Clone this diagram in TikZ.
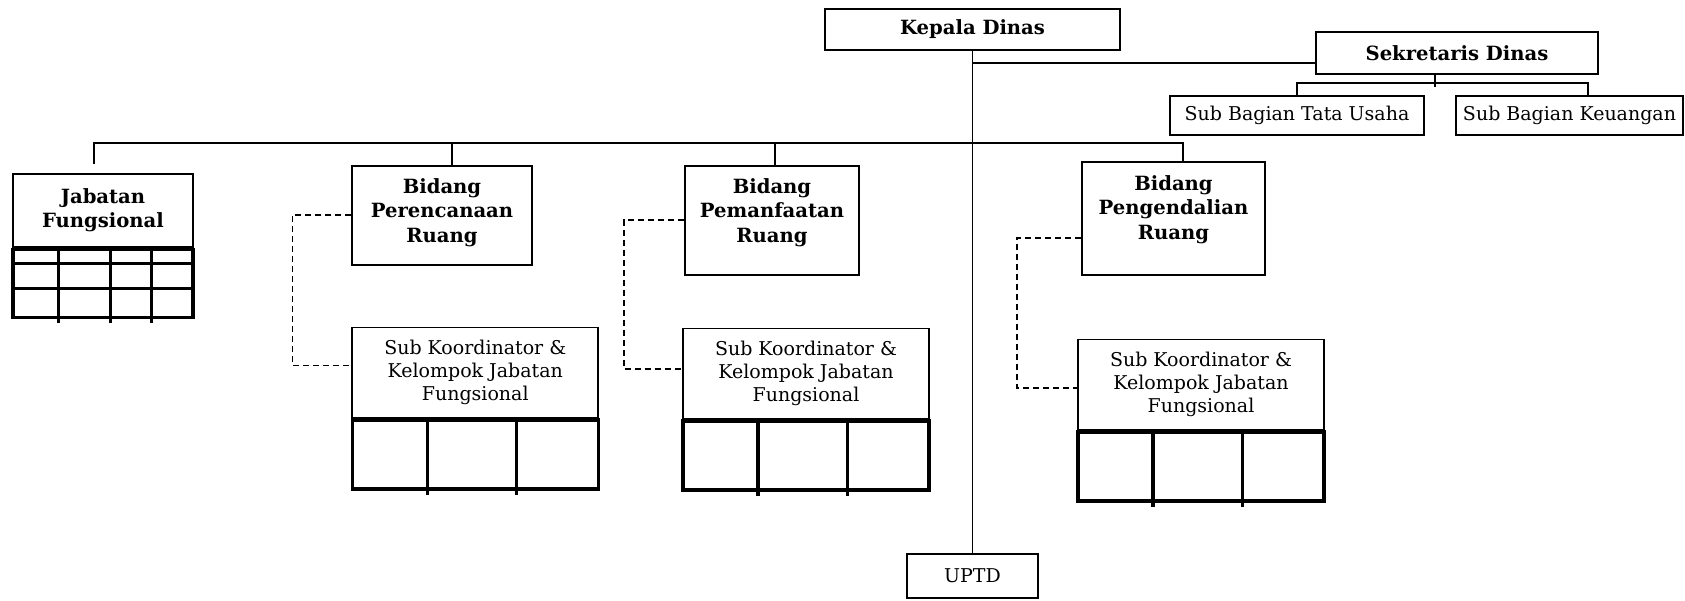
\documentclass[tikz,border=0pt]{standalone}
\usepackage{fontspec}
\setmainfont{DejaVu Serif}
\usetikzlibrary{positioning}
\colorlet{line-color}{black}
\tikzset{
    box/.style = {draw=line-color, line width=0.8pt, inner sep=0pt, align=center,
                  font=\fontsize{9.5}{11.5}\selectfont},
    headbox/.style = {box, font=\fontsize{9.8}{12.2}\selectfont\bfseries},
    bidang/.style = {draw=line-color, line width=0.8pt, anchor=north, inner sep=0pt},
    bidtext/.style = {inner sep=0pt, align=center, font=\fontsize{9.8}{12.2}\selectfont\bfseries},
    subkor/.style = {box, minimum width=123pt, minimum height=45pt},
    gridbox/.style = {draw=line-color, line width=1.6pt, inner sep=0pt, anchor=north},
    gridline/.style = {line-color, line width=1.6pt},
    link/.style = {line-color, line width=0.9pt},
    dashlink/.style = {line-color, line width=0.9pt, dash pattern=on 3pt off 2pt}
}

\begin{document}
\begin{tikzpicture}[x=0.5pt, y=-0.5pt]
\useasboundingbox (0,0) rectangle (1685,600);

% pimpinan
\node[headbox, minimum width=147.5pt, minimum height=20.5pt] (kadis) at (972.5,29.5) {Kepala Dinas};
\node[headbox, minimum width=141pt, minimum height=21pt] (sekdis) at (1457,53) {Sekretaris Dinas};
\node[box, minimum width=127pt, minimum height=19.5pt] (tu) at (1297,115.5) {Sub Bagian Tata Usaha};
\node[box, minimum width=113.5pt, minimum height=19.5pt] (keu) at (1569.5,115.5) {Sub Bagian Keuangan};
\node[box, minimum width=65.5pt, minimum height=22pt] (uptd) at (972.5,576) {UPTD};

\coordinate (sbus) at (1435,83);
\coordinate (mbus) at (0,143);

\draw[link] (kadis.south) -- (uptd.north);
\draw[link] ([yshift=-5pt]sekdis.west) -- ([yshift=-5pt]sekdis.west -| kadis.south);
\draw[link] ([xshift=-11pt]sekdis.south) -- ([yshift=-2pt]sbus);
\draw[link] (tu.north) -- (tu.north |- sbus) -- ([xshift=9.25pt]keu.north |- sbus) -- ([xshift=9.25pt]keu.north);

% jabatan fungsional
\node[headbox, minimum width=90pt, minimum height=36.5pt] (jf) at (103,210.5) {Jabatan\\Fungsional};
\node[gridbox, minimum width=90pt, minimum height=34pt] (jfg) at (jf.south) {};
\foreach \dy in {8pt,20.5pt}
    \draw[gridline] ([yshift=-\dy]jfg.north west) -- ([yshift=-\dy]jfg.north east);
\foreach \dx in {23.5pt,49.5pt,70pt}
    \draw[gridline] ([xshift=\dx]jfg.north west) -- ([xshift=\dx,yshift=-2pt]jfg.south west);

% bidang
\node[bidang, minimum width=89.75pt, minimum height=49.5pt] (bpr) at (442,165) {};
\node[bidtext, below=6.5pt of bpr.north] (bprtext) {Bidang\\Perencanaan\\Ruang};
\node[bidang, minimum width=87pt, minimum height=54.5pt] (bpm) at (772,165) {};
\node[bidtext, below=6.5pt of bpm.north] (bpmtext) {Bidang\\Pemanfaatan\\Ruang};
\node[bidang, minimum width=91.5pt, minimum height=56.5pt] (bpg) at (1173.5,161) {};
\node[bidtext, below=7pt of bpg.north] (bpgtext) {Bidang\\Pengendalian\\Ruang};

\draw[link] ([xshift=-4.7pt,yshift=4.5pt]jf.north) |- ([xshift=4.75pt]bpg.north |- mbus) -- ([xshift=4.75pt]bpg.north);
\draw[link] ([xshift=5pt]bpr.north) -- ([xshift=5pt]bpr.north |- mbus);
\draw[link] ([xshift=1.5pt]bpm.north) -- ([xshift=1.5pt]bpm.north |- mbus);

% sub koordinator
\node[subkor] (sk1) at (475.25,372.5) {Sub Koordinator \&\\Kelompok Jabatan\\Fungsional};
\node[subkor] (sk2) at (806,373.5) {Sub Koordinator \&\\Kelompok Jabatan\\Fungsional};
\node[subkor] (sk3) at (1201,384.5) {Sub Koordinator \&\\Kelompok Jabatan\\Fungsional};
\node[gridbox, minimum width=123pt, minimum height=34.5pt] (sk1g) at (sk1.south) {};
\node[gridbox, minimum width=123pt, minimum height=34.5pt] (sk2g) at (sk2.south) {};
\node[gridbox, minimum width=123pt, minimum height=34.5pt] (sk3g) at (sk3.south) {};
\foreach \g in {sk1g,sk2g,sk3g}
    \foreach \dx in {38.25pt,83pt}
        \draw[gridline] ([xshift=\dx]\g.north west) -- ([xshift=\dx,yshift=-2pt]\g.south west);

\draw[dashlink] (bpr.west) -- ++(-59,0) |- ([yshift=3.5pt]sk1.west);
\draw[dashlink] (bpm.west) -- ++(-60.5,0) |- ([yshift=2.25pt]sk2.west);
\draw[dashlink] ([yshift=-9.75pt]bpg.west) -- ++(-64,0) |- ([yshift=-1.75pt]sk3.west);
\end{tikzpicture}
\end{document}
